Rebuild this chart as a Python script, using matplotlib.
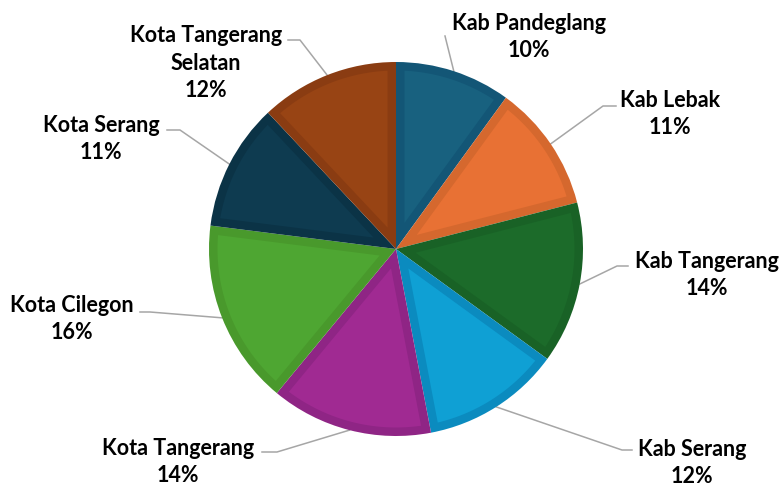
import matplotlib
matplotlib.use('Agg')
import numpy as np
import matplotlib.pyplot as plt
from matplotlib.patches import Polygon

# data
regions = ['Kab Pandeglang', 'Kab Lebak', 'Kab Tangerang', 'Kab Serang',
           'Kota Tangerang', 'Kota Cilegon', 'Kota Serang', 'Kota Tangerang\nSelatan']
shares = [10, 11, 14, 12, 14, 16, 11, 12]
fill_colors = ['#18617f', '#e87134', '#1c6b2a', '#0fa0d4',
               '#a02a92', '#4ea632', '#0e3b50', '#984414']
edge_colors = ['#135676', '#d5682e', '#196226', '#0b8bbf',
               '#8f2585', '#49992c', '#0b3346', '#8a3c12']

# label layout in pixel coords (x, y from top): text centre, leader elbow, leader end
label_pos = [(529, 37), (670, 114), (707, 275), (692, 463),
             (178, 462), (72, 319), (101, 139), (206, 63)]
elbows = [(445, 36), (603, 106), (617, 266), (622, 450),
          (277, 452), (150, 312), (180, 130), (300, 40)]
ends = [(445, 36), (616, 106), (628, 266), (632, 450),
        (262, 452), (140, 312), (167, 130), (288, 40)]

W, H = 782, 487
cx, cy, r = 396, 249, 187
border = 8.5

fig = plt.figure(figsize=(W / 100, H / 100), dpi=100)
ax = fig.add_axes([0, 0, 1, 1])

# outer wedge in the darker border colour
wedges, _ = ax.pie(shares, colors=edge_colors, startangle=90, counterclock=False,
                   center=(cx, H - cy), radius=r, wedgeprops=dict(linewidth=0))

# lighter inset of each wedge
for w, fc in zip(wedges, fill_colors):
    t1, t2 = np.deg2rad(w.theta1), np.deg2rad(w.theta2)
    ri = r - border
    da = np.arcsin(border / ri)
    arc = np.linspace(t1 + da, t2 - da, 80)
    half = (t2 - t1) / 2
    apex_d = border / np.sin(half)
    mid = (t1 + t2) / 2
    xs = [cx + apex_d * np.cos(mid)] + list(cx + ri * np.cos(arc))
    ys = [H - cy + apex_d * np.sin(mid)] + list(H - cy + ri * np.sin(arc))
    ax.add_patch(Polygon(np.column_stack([xs, ys]), closed=True,
                         facecolor=fc, edgecolor='none', zorder=2))

ax.set_xlim(0, W)
ax.set_ylim(0, H)
ax.set_aspect('equal')
ax.axis('off')

for w, lbl, pct, tp, el, en in zip(wedges, regions, shares, label_pos, elbows, ends):
    mid = np.deg2rad((w.theta1 + w.theta2) / 2)
    px = cx + r * np.cos(mid)
    py = H - cy + r * np.sin(mid)
    ax.plot([px, el[0], en[0]], [py, H - el[1], H - en[1]],
            color='#a6a6a6', linewidth=1.1, zorder=0)
    ax.text(tp[0], H - tp[1], f'{lbl}\n{pct}%', ha='center', va='center',
            fontsize=15.5, fontweight='bold', family='Lato', color='#000000',
            linespacing=1.4)

fig.savefig('out.png', dpi=100)
